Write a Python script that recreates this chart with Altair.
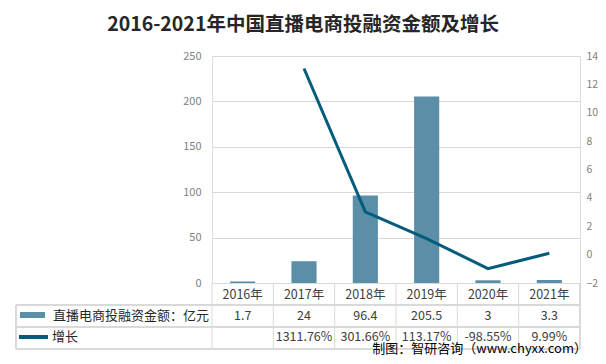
import altair as alt
import pandas as pd

years = ["2016", "2017", "2018", "2019", "2020", "2021"]
amounts = [1.7, 24, 96.4, 205.5, 3, 3.3]
growth_pct = [None, 1311.76, 301.66, 113.17, -98.55, 9.99]

title_text = "2016-2021年中国直播电商投融资金额及增长"
bar_name = "直播电商投融资金额：亿元"
line_name = "增长"
source_text = "制图：智研咨询（www.chyxx.com）"

BAR_COLOR = "#5A8FA7"
LINE_COLOR = "#035C7C"
GRID = "#D9D9D9"
FONT = "Noto Sans CJK SC"

df = pd.DataFrame({
    "year": years,
    "year_label": [y + "年" for y in years],
    "amount": amounts,
    "amount_label": [f"{v:g}" for v in amounts],
    "growth": [None if g is None else g / 100 for g in growth_pct],
    "growth_label": ["" if g is None else f"{g:.2f}%" for g in growth_pct],
})

W, H = 368, 227
xband = alt.Scale(type="band", paddingInner=0, paddingOuter=0, domain=years)
X = alt.X("year:N", scale=xband, axis=None, sort=years)
Xc = alt.X("year:N", scale=xband, axis=None, sort=years, bandPosition=0.5)
X0 = alt.X("year:N", scale=xband, axis=None, sort=years, bandPosition=0)

base = alt.Chart(df)

bars = base.mark_bar(color=BAR_COLOR, width=alt.RelativeBandSize(0.41)).encode(
    x=X,
    y=alt.Y("amount:Q", scale=alt.Scale(domain=[0, 250]),
            axis=alt.Axis(values=[0, 50, 100, 150, 200, 250], title=None,
                          domain=False, ticks=False, labelPadding=11,
                          labelColor="#7F7F7F", labelFontSize=11, labelFont=FONT,
                          gridColor=GRID, gridWidth=1)),
)

line = base.transform_filter("datum.growth != null").mark_line(
    color=LINE_COLOR, strokeWidth=3
).encode(
    x=Xc,
    y=alt.Y("growth:Q", scale=alt.Scale(domain=[-2, 14]),
            axis=alt.Axis(orient="right", values=list(range(-2, 15, 2)), title=None,
                          domain=False, ticks=False, labelPadding=6, grid=False,
                          labelColor="#7F7F7F", labelFontSize=10.5, labelFont=FONT)),
)

txt_style = dict(font=FONT, fontSize=12.5, color="#404040", align="center", baseline="middle")

hdr = base.mark_text(**txt_style).encode(x=Xc, y=alt.value(239), text="year_label:N")
row2 = base.mark_text(**txt_style).encode(x=Xc, y=alt.value(260), text="amount_label:N")
row3 = base.mark_text(**txt_style).encode(x=Xc, y=alt.value(281), text="growth_label:N")

vlines = base.mark_rule(color=GRID, strokeWidth=1).encode(
    x=X0, y=alt.value(227), y2=alt.value(293))
vline_end = base.mark_rule(color=GRID, strokeWidth=1).encode(
    x=alt.value(W), y=alt.value(227), y2=alt.value(293))
vline_left = base.mark_rule(color=GRID, strokeWidth=1).encode(
    x=alt.value(-196), y=alt.value(249), y2=alt.value(293))
hl1 = base.mark_rule(color=GRID, strokeWidth=1).encode(
    x=alt.value(-196), x2=alt.value(W), y=alt.value(249))
hl2 = base.mark_rule(color=GRID, strokeWidth=1).encode(
    x=alt.value(-196), x2=alt.value(W), y=alt.value(271))
hl3 = base.mark_rule(color=GRID, strokeWidth=1).encode(
    x=alt.value(-196), x2=alt.value(W), y=alt.value(293))

leg_bar = base.mark_rule(color=BAR_COLOR, strokeWidth=6).encode(
    x=alt.value(-192), x2=alt.value(-167), y=alt.value(259))
leg_line = base.mark_rule(color=LINE_COLOR, strokeWidth=3).encode(
    x=alt.value(-193), x2=alt.value(-164), y=alt.value(281))
leg_t1 = alt.Chart(pd.DataFrame({"t": [bar_name]})).mark_text(
    font=FONT, fontSize=13, color="#262626", align="left", baseline="middle"
).encode(x=alt.value(-159), y=alt.value(260), text="t:N")
leg_t2 = alt.Chart(pd.DataFrame({"t": [line_name]})).mark_text(
    font=FONT, fontSize=13, color="#262626", align="left", baseline="middle"
).encode(x=alt.value(-160), y=alt.value(281), text="t:N")

src = alt.Chart(pd.DataFrame({"t": [source_text]})).mark_text(
    font=FONT, fontSize=13, color="#000000", align="right", baseline="middle"
).encode(x=alt.value(375), y=alt.value(293), text="t:N")

chart = alt.layer(
    bars, line, vlines, vline_end, vline_left, hl1, hl2, hl3,
    hdr, row2, row3, leg_bar, leg_line, leg_t1, leg_t2, src
).resolve_scale(y="independent").properties(
    width=W, height=H,
    title=alt.Title(title_text, font=FONT, fontSize=19.5, fontWeight="bold",
                    color="#262626", anchor="middle", dx=-93, offset=15),
    padding={"left": 204, "top": 48, "right": 18, "bottom": 73},
    autosize=alt.AutoSizeParams(type="none"),
).configure_view(stroke=None).configure(background="white")

chart.save("out.html", embed_options={"renderer": "svg", "actions": False})
